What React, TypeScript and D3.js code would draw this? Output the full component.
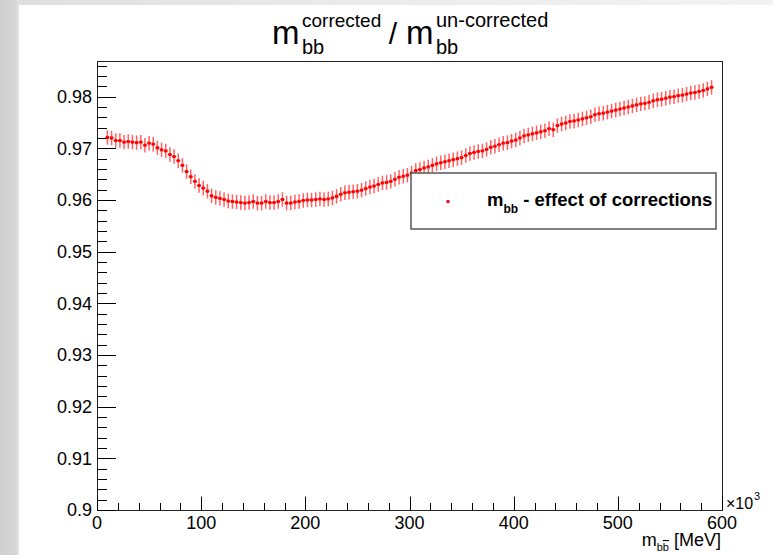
import React from 'react';
import * as d3 from 'd3';

// bin centers of the histogram (x in units of 10^3 MeV)
const binCenters: number[] = d3.range(10, 591, 4);
// ratio m_bb(corrected)/m_bb(un-corrected) per bin
const ratioValues: number[] = [
  0.9721, 0.9720, 0.9715, 0.9715, 0.9712, 0.9713, 0.9712, 0.9711, 0.9712, 0.9706,
  0.9710, 0.9708, 0.9701, 0.9697, 0.9695, 0.9688, 0.9684, 0.9676, 0.9667, 0.9655,
  0.9645, 0.9636, 0.9628, 0.9623, 0.9617, 0.9608, 0.9605, 0.9603, 0.9601, 0.9598,
  0.9597, 0.9596, 0.9595, 0.9594, 0.9595, 0.9597, 0.9594, 0.9594, 0.9597, 0.9595,
  0.9595, 0.9597, 0.9601, 0.9594, 0.9594, 0.9596, 0.9597, 0.9599, 0.9600, 0.9600,
  0.9601, 0.9602, 0.9601, 0.9602, 0.9604, 0.9607, 0.9611, 0.9614, 0.9615, 0.9616,
  0.9617, 0.9619, 0.9622, 0.9625, 0.9627, 0.9630, 0.9633, 0.9634, 0.9636, 0.9640,
  0.9644, 0.9646, 0.9648, 0.9652, 0.9657, 0.9659, 0.9662, 0.9664, 0.9667, 0.9670,
  0.9672, 0.9674, 0.9676, 0.9678, 0.9680, 0.9682, 0.9686, 0.9690, 0.9692, 0.9694,
  0.9695, 0.9698, 0.9702, 0.9704, 0.9707, 0.9710, 0.9711, 0.9714, 0.9716, 0.9720,
  0.9724, 0.9726, 0.9728, 0.9730, 0.9732, 0.9734, 0.9738, 0.9736, 0.9744, 0.9747,
  0.9749, 0.9752, 0.9753, 0.9755, 0.9757, 0.9759, 0.9761, 0.9765, 0.9767, 0.9768,
  0.9770, 0.9772, 0.9774, 0.9776, 0.9778, 0.9780, 0.9782, 0.9784, 0.9786, 0.9787,
  0.9789, 0.9792, 0.9794, 0.9795, 0.9797, 0.9799, 0.9800, 0.9802, 0.9803, 0.9805,
  0.9807, 0.9808, 0.9810, 0.9812, 0.9815, 0.9818,
];
const binHalfWidth = 2;
const errorHalf = 0.0014;

const xMajorTicks: number[] = [0, 100, 200, 300, 400, 500, 600];
const xTickLabels: string[] = ['0', '100', '200', '300', '400', '500', '600'];
const yMajorTicks: number[] = [0.9, 0.91, 0.92, 0.93, 0.94, 0.95, 0.96, 0.97, 0.98];
const yTickLabels: string[] = ['0.9', '0.91', '0.92', '0.93', '0.94', '0.95', '0.96', '0.97', '0.98'];

const W = 773;
const H = 555;
const frame = { left: 97, right: 722, top: 61, bottom: 510 };
const FONT = "'Liberation Sans', Arial, Helvetica, sans-serif";
const RED = '#ff0000';

export default function App() {
  const x = d3.scaleLinear().domain([0, 600]).range([frame.left, frame.right]);
  const y = d3.scaleLinear().domain([0.9, 0.9869]).range([frame.bottom, frame.top]);

  const xMinor = d3.range(0, 601, 20).filter((v) => v % 100 !== 0);
  const yMinor = d3
    .range(0, 44)
    .map((i) => 0.9 + i * 0.002)
    .filter((v) => v <= 0.9869 && Math.abs(v * 100 - Math.round(v * 100)) > 1e-6);

  const points = binCenters.map((c, i) => ({ c, v: ratioValues[i] }));

  return (
    <div style={{ position: 'absolute', left: 0, top: 0, width: W, height: H }}>
      <svg width={W} height={H} style={{ display: 'block' }}>
        <defs>
          <linearGradient id="leftStrip" x1="0" x2="1" y1="0" y2="0">
            <stop offset="0" stopColor="#cfcfcf" />
            <stop offset="0.8" stopColor="#d6d6d6" />
            <stop offset="1" stopColor="#e4e4e4" />
          </linearGradient>
          <linearGradient id="topStrip" x1="0" x2="1" y1="0" y2="0">
            <stop offset="0" stopColor="#dedede" />
            <stop offset="0.5" stopColor="#ececec" />
            <stop offset="1" stopColor="#f2f2f2" />
          </linearGradient>
        </defs>
        <rect x={0} y={0} width={W} height={H} fill="#ffffff" />
        <rect x={0} y={0} width={W} height={5} fill="url(#topStrip)" />
        <rect x={0} y={0} width={19} height={H} fill="url(#leftStrip)" />

        {/* title */}
        <g fontFamily={FONT} fill="#000">
          <text x={272} y={44} fontSize={33}>m</text>
          <text x={302} y={27} fontSize={19}>corrected</text>
          <text x={302} y={54} fontSize={20}>bb</text>
          <text x={393} y={44} fontSize={30} textAnchor="middle">/</text>
          <text x={406} y={44} fontSize={33}>m</text>
          <text x={436} y={27} fontSize={20}>un-corrected</text>
          <text x={436} y={54} fontSize={20}>bb</text>
        </g>

        {/* frame */}
        <rect
          x={frame.left + 0.5}
          y={frame.top + 0.5}
          width={frame.right - frame.left}
          height={frame.bottom - frame.top}
          fill="#fff"
          stroke="#222"
          strokeWidth={1}
        />

        {/* axis ticks */}
        <g stroke="#000" strokeWidth={1}>
          {yMajorTicks.map((t) => (
            <line key={'ym' + t} x1={frame.left} x2={frame.left + 19} y1={Math.round(y(t)) + 0.5} y2={Math.round(y(t)) + 0.5} />
          ))}
          {yMinor.map((t) => (
            <line key={'yn' + t} x1={frame.left} x2={frame.left + 10} y1={Math.round(y(t)) + 0.5} y2={Math.round(y(t)) + 0.5} />
          ))}
          {xMajorTicks.map((t) => (
            <line key={'xm' + t} x1={Math.round(x(t)) + 0.5} x2={Math.round(x(t)) + 0.5} y1={frame.bottom} y2={frame.bottom - 13.5} />
          ))}
          {xMinor.map((t) => (
            <line key={'xn' + t} x1={Math.round(x(t)) + 0.5} x2={Math.round(x(t)) + 0.5} y1={frame.bottom} y2={frame.bottom - 7} />
          ))}
        </g>

        {/* tick labels */}
        <g fontFamily={FONT} fontSize={18} fill="#000">
          {yMajorTicks.map((t, i) => (
            <text key={'yl' + t} x={92} y={y(t)} dy="0.36em" textAnchor="end">{yTickLabels[i]}</text>
          ))}
          {xMajorTicks.map((t, i) => (
            <text key={'xl' + t} x={x(t)} y={529} textAnchor="middle">{xTickLabels[i]}</text>
          ))}
        </g>
        <g fontFamily={FONT} fill="#000">
          <text x={726} y={509} fontSize={16}>×10</text>
          <text x={754} y={500} fontSize={11}>3</text>
        </g>

        {/* x axis title */}
        <g fontFamily={FONT} fill="#000">
          <text x={721} y={546} fontSize={18} textAnchor="end">
            <tspan>m</tspan>
            <tspan fontSize={11} dy={5}>b</tspan>
            <tspan fontSize={11} style={{ textDecoration: 'overline' }}>b</tspan>
            <tspan fontSize={18} dy={-5}> [MeV]</tspan>
          </text>
        </g>

        {/* data: error bars */}
        <g stroke="#ff2020" strokeWidth={1.5} strokeOpacity={0.7} fill="none">
          {points.map((p) => (
            <line key={'v' + p.c} x1={x(p.c)} x2={x(p.c)} y1={y(p.v - errorHalf)} y2={y(p.v + errorHalf)} />
          ))}
        </g>
        <g stroke={RED} strokeWidth={1} fill="none">
          {points.map((p) => (
            <line key={'h' + p.c} x1={x(p.c - binHalfWidth)} x2={x(p.c + binHalfWidth)} y1={y(p.v)} y2={y(p.v)} />
          ))}
        </g>
        {/* data: markers */}
        <g fill={RED}>
          {points.map((p) => (
            <rect key={'m' + p.c} x={x(p.c) - 1.5} y={y(p.v) - 1.5} width={3} height={3} />
          ))}
        </g>

        {/* legend */}
        <rect x={411} y={173} width={305} height={56} fill="#fff" stroke="#555" strokeWidth={1.5} />
        <rect x={446.5} y={200} width={3} height={3} fill={RED} />
        <g fontFamily={FONT} fontWeight="bold" fill="#000">
          <text x={487} y={206} fontSize={18.5}>
            <tspan>m</tspan>
            <tspan fontSize={12} dy={7}>bb</tspan>
            <tspan fontSize={18.5} dy={-7}> - effect of corrections</tspan>
          </text>
        </g>
      </svg>
    </div>
  );
}
